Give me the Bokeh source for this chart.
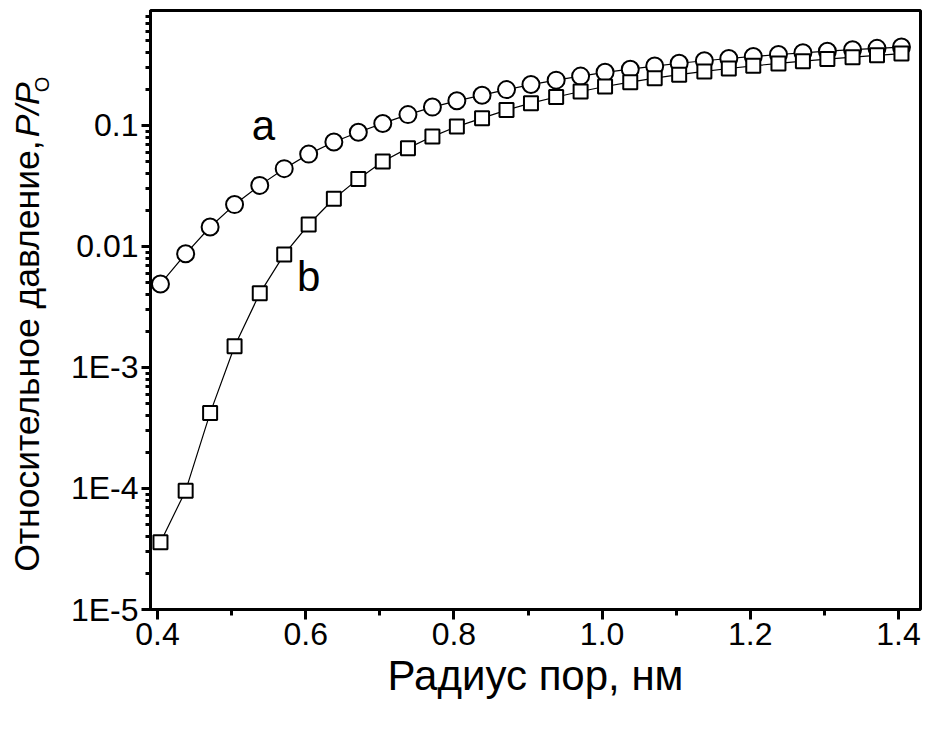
from math import pi
from bokeh.plotting import figure
from bokeh.layouts import row
from bokeh.models import Range1d, FixedTicker, CustomJSTickFormatter, PrintfTickFormatter, Label
from bokeh.core.properties import value
from bokeh.embed import file_html
from bokeh.resources import INLINE

# ---- data ----
radius_nm = [0.404, 0.438, 0.471, 0.504, 0.538, 0.571, 0.604, 0.638, 0.671, 0.704,
             0.738, 0.771, 0.804, 0.838, 0.871, 0.904, 0.938, 0.971, 1.004, 1.038,
             1.071, 1.104, 1.138, 1.171, 1.204, 1.238, 1.271, 1.304, 1.338, 1.371, 1.404]
pressure_a = [0.0049, 0.0087, 0.0145, 0.0222, 0.032, 0.044, 0.058, 0.073, 0.088, 0.104,
              0.123, 0.142, 0.160, 0.178, 0.198, 0.218, 0.237, 0.256, 0.275, 0.292,
              0.310, 0.327, 0.343, 0.358, 0.372, 0.386, 0.399, 0.411, 0.423, 0.434, 0.445]
pressure_b = [3.6e-5, 9.6e-5, 4.2e-4, 1.5e-3, 0.0041, 0.0086, 0.0152, 0.0248, 0.0362, 0.0504,
              0.065, 0.081, 0.098, 0.115, 0.134, 0.153, 0.172, 0.191, 0.210, 0.228,
              0.246, 0.263, 0.280, 0.296, 0.311, 0.326, 0.340, 0.354, 0.367, 0.380, 0.393]

xtick_values = [0.4, 0.6, 0.8, 1.0, 1.2, 1.4]
xminor_values = [0.5, 0.7, 0.9, 1.1, 1.3]
ytick_values = [1e-5, 1e-4, 1e-3, 1e-2, 1e-1]
ytick_labels = ["1E-5", "1E-4", "1E-3", "0.01", "0.1"]
yminor_values = [m * 10.0 ** e for e in range(-5, 0) for m in range(2, 10)]

x_title = "Радиус пор, нм"
y_title_main = "Относительное давление,"
y_title_ital = "P/P"
y_title_sub = "O"

FONT = "Liberation Sans"
H = 733
TITLE_W = 65

# ---- narrow strip holding the rotated y-axis title ----
t = figure(width=TITLE_W, height=H, output_backend="svg", toolbar_location=None,
           x_range=Range1d(0, TITLE_W), y_range=Range1d(0, H),
           x_axis_location=None, y_axis_location=None,
           min_border=0, min_border_left=0, min_border_right=0,
           min_border_top=0, min_border_bottom=0)
t.xgrid.visible = False
t.ygrid.visible = False
t.outline_line_color = None
t.background_fill_color = "white"
t.border_fill_color = "white"
t.text(x=[26], y=[H - 159], text=[y_title_main], angle=pi / 2,
       text_align="right", text_baseline="middle",
       text_font=value(FONT), text_font_size="35.5px", text_color="black")
t.text(x=[26], y=[H - 155], text=[y_title_ital], angle=pi / 2,
       text_align="left", text_baseline="middle",
       text_font=value(FONT), text_font_size="34px", text_font_style="italic",
       text_color="black")
t.text(x=[41], y=[H - 100], text=[y_title_sub], angle=pi / 2,
       text_align="left", text_baseline="middle",
       text_font=value(FONT), text_font_size="20px", text_color="black")

# ---- main plot ----
p = figure(width=925 - TITLE_W, height=H, output_backend="svg", toolbar_location=None,
           y_axis_type="log",
           x_range=Range1d(0.39055, 1.42969), y_range=Range1d(1e-5, 10 ** -0.0496),
           min_border_left=150 - TITLE_W, min_border_right=5, min_border_top=10,
           min_border_bottom=124)

p.xgrid.visible = False
p.ygrid.visible = False
p.outline_line_color = "black"
p.outline_line_width = 3
p.background_fill_color = "white"
p.border_fill_color = "white"

# x axis
xa = p.xaxis[0]
xa.ticker = FixedTicker(ticks=xtick_values, minor_ticks=xminor_values)
xa.formatter = PrintfTickFormatter(format="%.1f")
xa.axis_line_width = 3
xa.major_tick_line_width = 3
xa.minor_tick_line_width = 3
xa.major_tick_out = 10
xa.major_tick_in = 0
xa.minor_tick_out = 6
xa.minor_tick_in = 0
xa.major_label_text_font = FONT
xa.major_label_text_font_size = "32px"
xa.major_label_text_color = "black"
xa.major_label_standoff = 3
xa.axis_label = x_title
xa.axis_label_text_font = FONT
xa.axis_label_text_font_size = "42px"
xa.axis_label_text_font_style = "normal"
xa.axis_label_text_color = "black"
xa.axis_label_standoff = 4

# y axis
ya = p.yaxis[0]
ya.ticker = FixedTicker(ticks=ytick_values, minor_ticks=yminor_values)
ya.formatter = CustomJSTickFormatter(args=dict(vals=ytick_values, labels=ytick_labels), code="""
const e = Math.round(Math.log10(tick));
for (let i = 0; i < vals.length; i++) {
  if (Math.round(Math.log10(vals[i])) == e) { return labels[i]; }
}
return "";
""")
ya.axis_line_width = 3
ya.major_tick_line_width = 3
ya.minor_tick_line_width = 3
ya.major_tick_out = 9
ya.major_tick_in = 0
ya.minor_tick_out = 5
ya.minor_tick_in = 0
ya.major_label_text_font = FONT
ya.major_label_text_font_size = "32px"
ya.major_label_text_color = "black"
ya.major_label_standoff = 3

# series
p.line(radius_nm, pressure_a, line_color="black", line_width=1.2)
p.scatter(radius_nm, pressure_a, marker="circle", size=17, fill_color="white",
          line_color="black", line_width=2)
p.line(radius_nm, pressure_b, line_color="black", line_width=1.2)
p.scatter(radius_nm, pressure_b, marker="square", size=14, fill_color="white",
          line_color="black", line_width=2)

# curve labels
p.add_layout(Label(x=0.543, y=0.100, text="a", text_align="center", text_baseline="alphabetic",
                   text_font=FONT, text_font_size="42px", text_color="black"))
p.add_layout(Label(x=0.604, y=0.0056, text="b", text_align="center", text_baseline="alphabetic",
                   text_font=FONT, text_font_size="42px", text_color="black"))

layout = row(t, p, spacing=0)
open("out.html", "w").write(file_html(layout, INLINE))
